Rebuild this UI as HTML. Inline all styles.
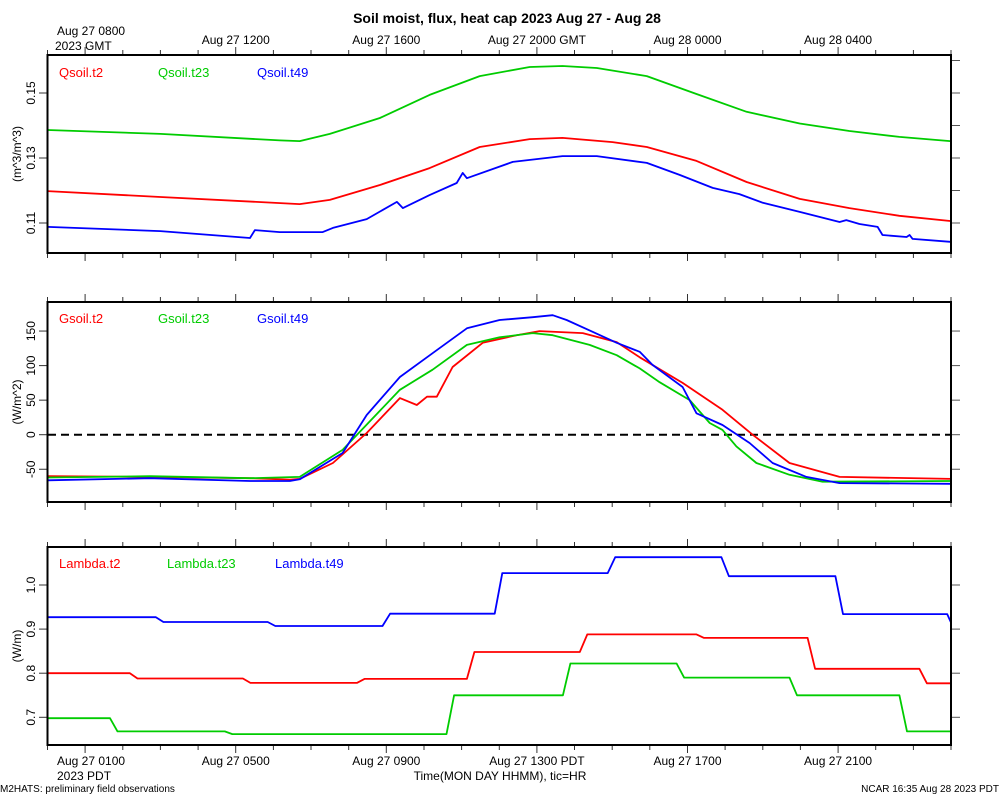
<!DOCTYPE html>
<html><head><meta charset="utf-8"><style>
html,body{margin:0;padding:0;background:#fff;}
svg{display:block;font-family:"Liberation Sans",Arial,sans-serif;}
</style></head><body>
<svg id="chart" width="1000" height="800" viewBox="0 0 1000 800" xmlns="http://www.w3.org/2000/svg">
<text x="507" y="23" text-anchor="middle" font-size="14" font-weight="bold">Soil moist, flux, heat cap 2023 Aug 27 - Aug 28</text>
<text x="57" y="35" font-size="12">Aug 27 0800</text>
<text x="55" y="50" font-size="12">2023 GMT</text>
<text x="57" y="780" font-size="12">2023 PDT</text>
<text x="500" y="780" text-anchor="middle" font-size="12">Time(MON DAY HHMM), tic=HR</text>
<text x="0" y="792" font-size="10">M2HATS: preliminary field observations</text>
<text x="999" y="792" text-anchor="end" font-size="10">NCAR 16:35 Aug 28 2023 PDT</text>
<g id="plots"></g>
</svg>
<script>
// x axis: hours since Aug 27 0700 GMT
const topTickLabels = ["", "Aug 27 1200", "Aug 27 1600", "Aug 27 2000 GMT", "Aug 28 0000", "Aug 28 0400"];
const bottomTickLabels = ["Aug 27 0100", "Aug 27 0500", "Aug 27 0900", "Aug 27 1300 PDT", "Aug 27 1700", "Aug 27 2100"];
const labeledHours = [1, 5, 9, 13, 17, 21];

// Panel 1: soil moisture
const q2Times = [0,3,6.7,7.5,8.83,10.15,11.48,12.81,13.68,15.01,15.92,17.24,18.57,19.98,21.3,22.63,23.98];
const q2Vals = [.1198,.1180,.1158,.1171,.1217,.1269,.1334,.1358,.1362,.1349,.1334,.1291,.1226,.1174,.1146,.1122,.1106];
const q23Times = [0,3,6.17,6.7,7.5,8.83,10.15,11.48,12.81,13.68,14.59,15.92,17.24,18.57,19.98,21.3,22.63,23.98];
const q23Vals = [.1386,.1374,.1354,.1352,.1374,.1423,.1494,.1552,.1580,.1583,.1577,.1552,.1497,.1442,.1406,.1383,.1365,.1352];
const q49Times = [0,3,5.38,5.51,6.17,7.31,7.58,8.48,9.28,9.44,10.15,10.87,11.03,11.14,12.36,13.68,14.59,15.92,16.79,17.67,18.38,19.0,19.98,21.04,21.22,21.57,22.05,22.18,22.82,22.9,22.98,23.98];
const q49Vals = [.1088,.1075,.1054,.1078,.1072,.1072,.1085,.1112,.1165,.1146,.1186,.1223,.1254,.1238,.1288,.1306,.1306,.1285,.1248,.1208,.1189,.1162,.1134,.1103,.1109,.1097,.1088,.1063,.1057,.1063,.1051,.1042];

// Panel 2: soil heat flux
const g2Times = [0,2.72,5.38,6.44,6.70,7.58,8.48,9.36,9.81,10.08,10.34,10.76,11.56,12.46,13.07,14.22,15.12,15.73,16.87,17.93,18.73,19.71,21.04,24];
const g2Vals = [-60,-61,-63,-65,-64,-41,2.5,53,43,55,55,98,133,144,150,147,134,112,75,36,0,-41,-61,-64];
const g23Times = [0,2.72,5.38,6.70,7.84,9.36,10.23,11.14,12.01,12.89,13.42,14.40,15.12,15.73,16.26,17.06,17.59,17.93,18.30,18.83,19.71,20.59,24];
const g23Vals = [-62,-60,-63,-61,-22,65,94,130,141,147,144,130,115,96,76,50,17,7,-17,-41,-58,-68,-67];
const g49Times = [0,2.72,5.38,6.44,6.70,7.84,8.48,9.36,10.23,11.14,12.01,12.89,13.42,13.79,14.40,15.12,15.73,16.07,16.87,17.24,17.93,18.65,19.26,20.16,21.04,24];
const g49Vals = [-66,-63,-67,-67,-64.6,-26.5,28.5,83.5,118,154,166,170,173,166,151,133,120,101,69,31,14,-12,-41,-61,-70,-71];

// Panel 3: thermal conductivity (step levels, change hours)
const l2Levels = [.800,.788,.778,.787,.848,.888,.880,.810,.777];
const l2Changes = [2.19,5.19,8.22,11.14,14.14,17.24,20.19,23.16];
const l23Levels = [.698,.668,.662,.750,.822,.790,.750,.668];
const l23Changes = [1.66,4.71,10.6,13.69,16.71,19.71,22.63];
const l49Levels = [.927,.916,.907,.935,1.027,1.063,1.020,.934,.915];
const l49Changes = [2.88,5.85,8.90,11.88,14.88,17.90,20.93,23.90];

const NS = "http://www.w3.org/2000/svg";
const root = document.getElementById("plots");
const X0 = 47.5, X1 = 951, HRS = 24;
function xS(h){ return X0 + (X1 - X0) * h / HRS; }
function mk(tag, attrs, parent){
  const e = document.createElementNS(NS, tag);
  for (const k in attrs) e.setAttribute(k, attrs[k]);
  (parent || root).appendChild(e);
  return e;
}
function stepPts(levels, changes){
  const t = [], v = [];
  const ramp = 0.2;
  t.push(0); v.push(levels[0]);
  for (let i = 0; i < changes.length; i++){
    t.push(changes[i]); v.push(levels[i]);
    t.push(Math.min(HRS, changes[i] + ramp)); v.push(levels[i+1]);
  }
  if (t[t.length-1] < HRS){ t.push(HRS); v.push(levels[levels.length-1]); }
  return [t, v];
}

const panels = [
  {name:"moisture", top:55, bot:253, vmin:0.15-(253-93)/3250, vmax:0.15+(93-55)/3250,
   labelTicks:[0.11,0.13,0.15], labelFmt:v=>v.toFixed(2), rightTicks:[0.11,0.12,0.13,0.14,0.15,0.16],
   title:"(m^3/m^3)", titleY:154,
   series:[["Qsoil.t2","#ff0000",q2Times,q2Vals,59],["Qsoil.t23","#00cc00",q23Times,q23Vals,158],["Qsoil.t49","#0000ff",q49Times,q49Vals,257]], legendY:77},
  {name:"heat-flux", top:302, bot:502, vmin:-(502-434.7)/0.691, vmax:(434.7-302)/0.691,
   labelTicks:[-50,0,50,100,150], labelFmt:v=>String(v), rightTicks:[-50,0,50,100,150],
   title:"(W/m^2)", titleY:402, zero:true,
   series:[["Gsoil.t2","#ff0000",g2Times,g2Vals,59],["Gsoil.t23","#00cc00",g23Times,g23Vals,158],["Gsoil.t49","#0000ff",g49Times,g49Vals,257]], legendY:323},
  {name:"conductivity", top:547, bot:745, vmin:0.7-(745-717.3)/441, vmax:1.0+(585-547)/441,
   labelTicks:[0.7,0.8,0.9,1.0], labelFmt:v=>v.toFixed(1), rightTicks:[0.7,0.8,0.9,1.0],
   title:"(W/m)", titleY:646,
   series:[["Lambda.t2","#ff0000",...stepPts(l2Levels,l2Changes),59],["Lambda.t23","#00cc00",...stepPts(l23Levels,l23Changes),167],["Lambda.t49","#0000ff",...stepPts(l49Levels,l49Changes),275]], legendY:568}
];

panels.forEach((p, pi) => {
  const g = mk("g", {});
  
  
  const yS = v => p.bot - (v - p.vmin) / (p.vmax - p.vmin) * (p.bot - p.top);
  for (let h = 0; h <= HRS; h++){
    const x = xS(h).toFixed(1);
    const long = labeledHours.includes(h);
    const tl = mk("line", {x1:x, x2:x, y1:p.top, y2:p.top-(long?8:5), stroke:"#333", "stroke-width":1}, g);
    
    
    const bl = mk("line", {x1:x, x2:x, y1:p.bot, y2:p.bot+(long?8:5), stroke:"#333", "stroke-width":1}, g);
    
    
  }
  p.labelTicks.forEach(v => {
    const y = yS(v);
    const t = mk("line", {x1:39, x2:47, y1:y, y2:y, stroke:"#333", "stroke-width":1}, g);
    
    
    const lb = mk("text", {x:0, y:0, "font-size":12, "text-anchor":"middle", transform:`translate(35,${y.toFixed(1)}) rotate(-90)`}, g);
    
    
    lb.textContent = p.labelFmt(v);
  });
  p.rightTicks.forEach(v => {
    const y = yS(v);
    const t = mk("line", {x1:951, x2:960, y1:y, y2:y, stroke:"#555", "stroke-width":1}, g);
    
    
  });
  const yt = mk("text", {x:0, y:0, "font-size":12, "text-anchor":"middle", transform:`translate(21,${p.titleY}) rotate(-90)`}, g);
  
  
  yt.textContent = p.title;
  if (p.zero){
    const z = mk("line", {x1:48, x2:950, y1:yS(0), y2:yS(0), stroke:"#000", "stroke-width":2, "stroke-dasharray":"8,5"}, g);
    
    
  }
  p.series.forEach(s => {
    const [label, color, ts, vs, lx] = s;
    const pts = ts.map((t, i) => xS(t).toFixed(1) + "," + yS(vs[i]).toFixed(1)).join(" ");
    const pl = mk("polyline", {points:pts, fill:"none", stroke:color, "stroke-width":1.8, "stroke-linejoin":"round"}, g);
    
    
    const lt = mk("text", {x:lx, y:p.legendY, fill:color, "font-size":13}, g);
    
    
    lt.textContent = label;
  });
  const fr = mk("rect", {x:47.5, y:p.top, width:X1-47.5, height:p.bot-p.top, fill:"none", stroke:"#000", "stroke-width":2}, g);
  
  
  if (pi === 0){
    topTickLabels.forEach((t, i) => {
      if (!t) return;
      const tx = mk("text", {x:xS(labeledHours[i]), y:44, "font-size":12, "text-anchor":"middle"}, g);
      
      
      tx.textContent = t;
    });
  }
  if (pi === 2){
    bottomTickLabels.forEach((t, i) => {
      const tx = mk("text", {x:i === 0 ? 57 : xS(labeledHours[i]), y:765, "font-size":12, "text-anchor":i === 0 ? "start" : "middle"}, g);
      
      
      tx.textContent = t;
    });
  }
});
</script>
</body></html>
